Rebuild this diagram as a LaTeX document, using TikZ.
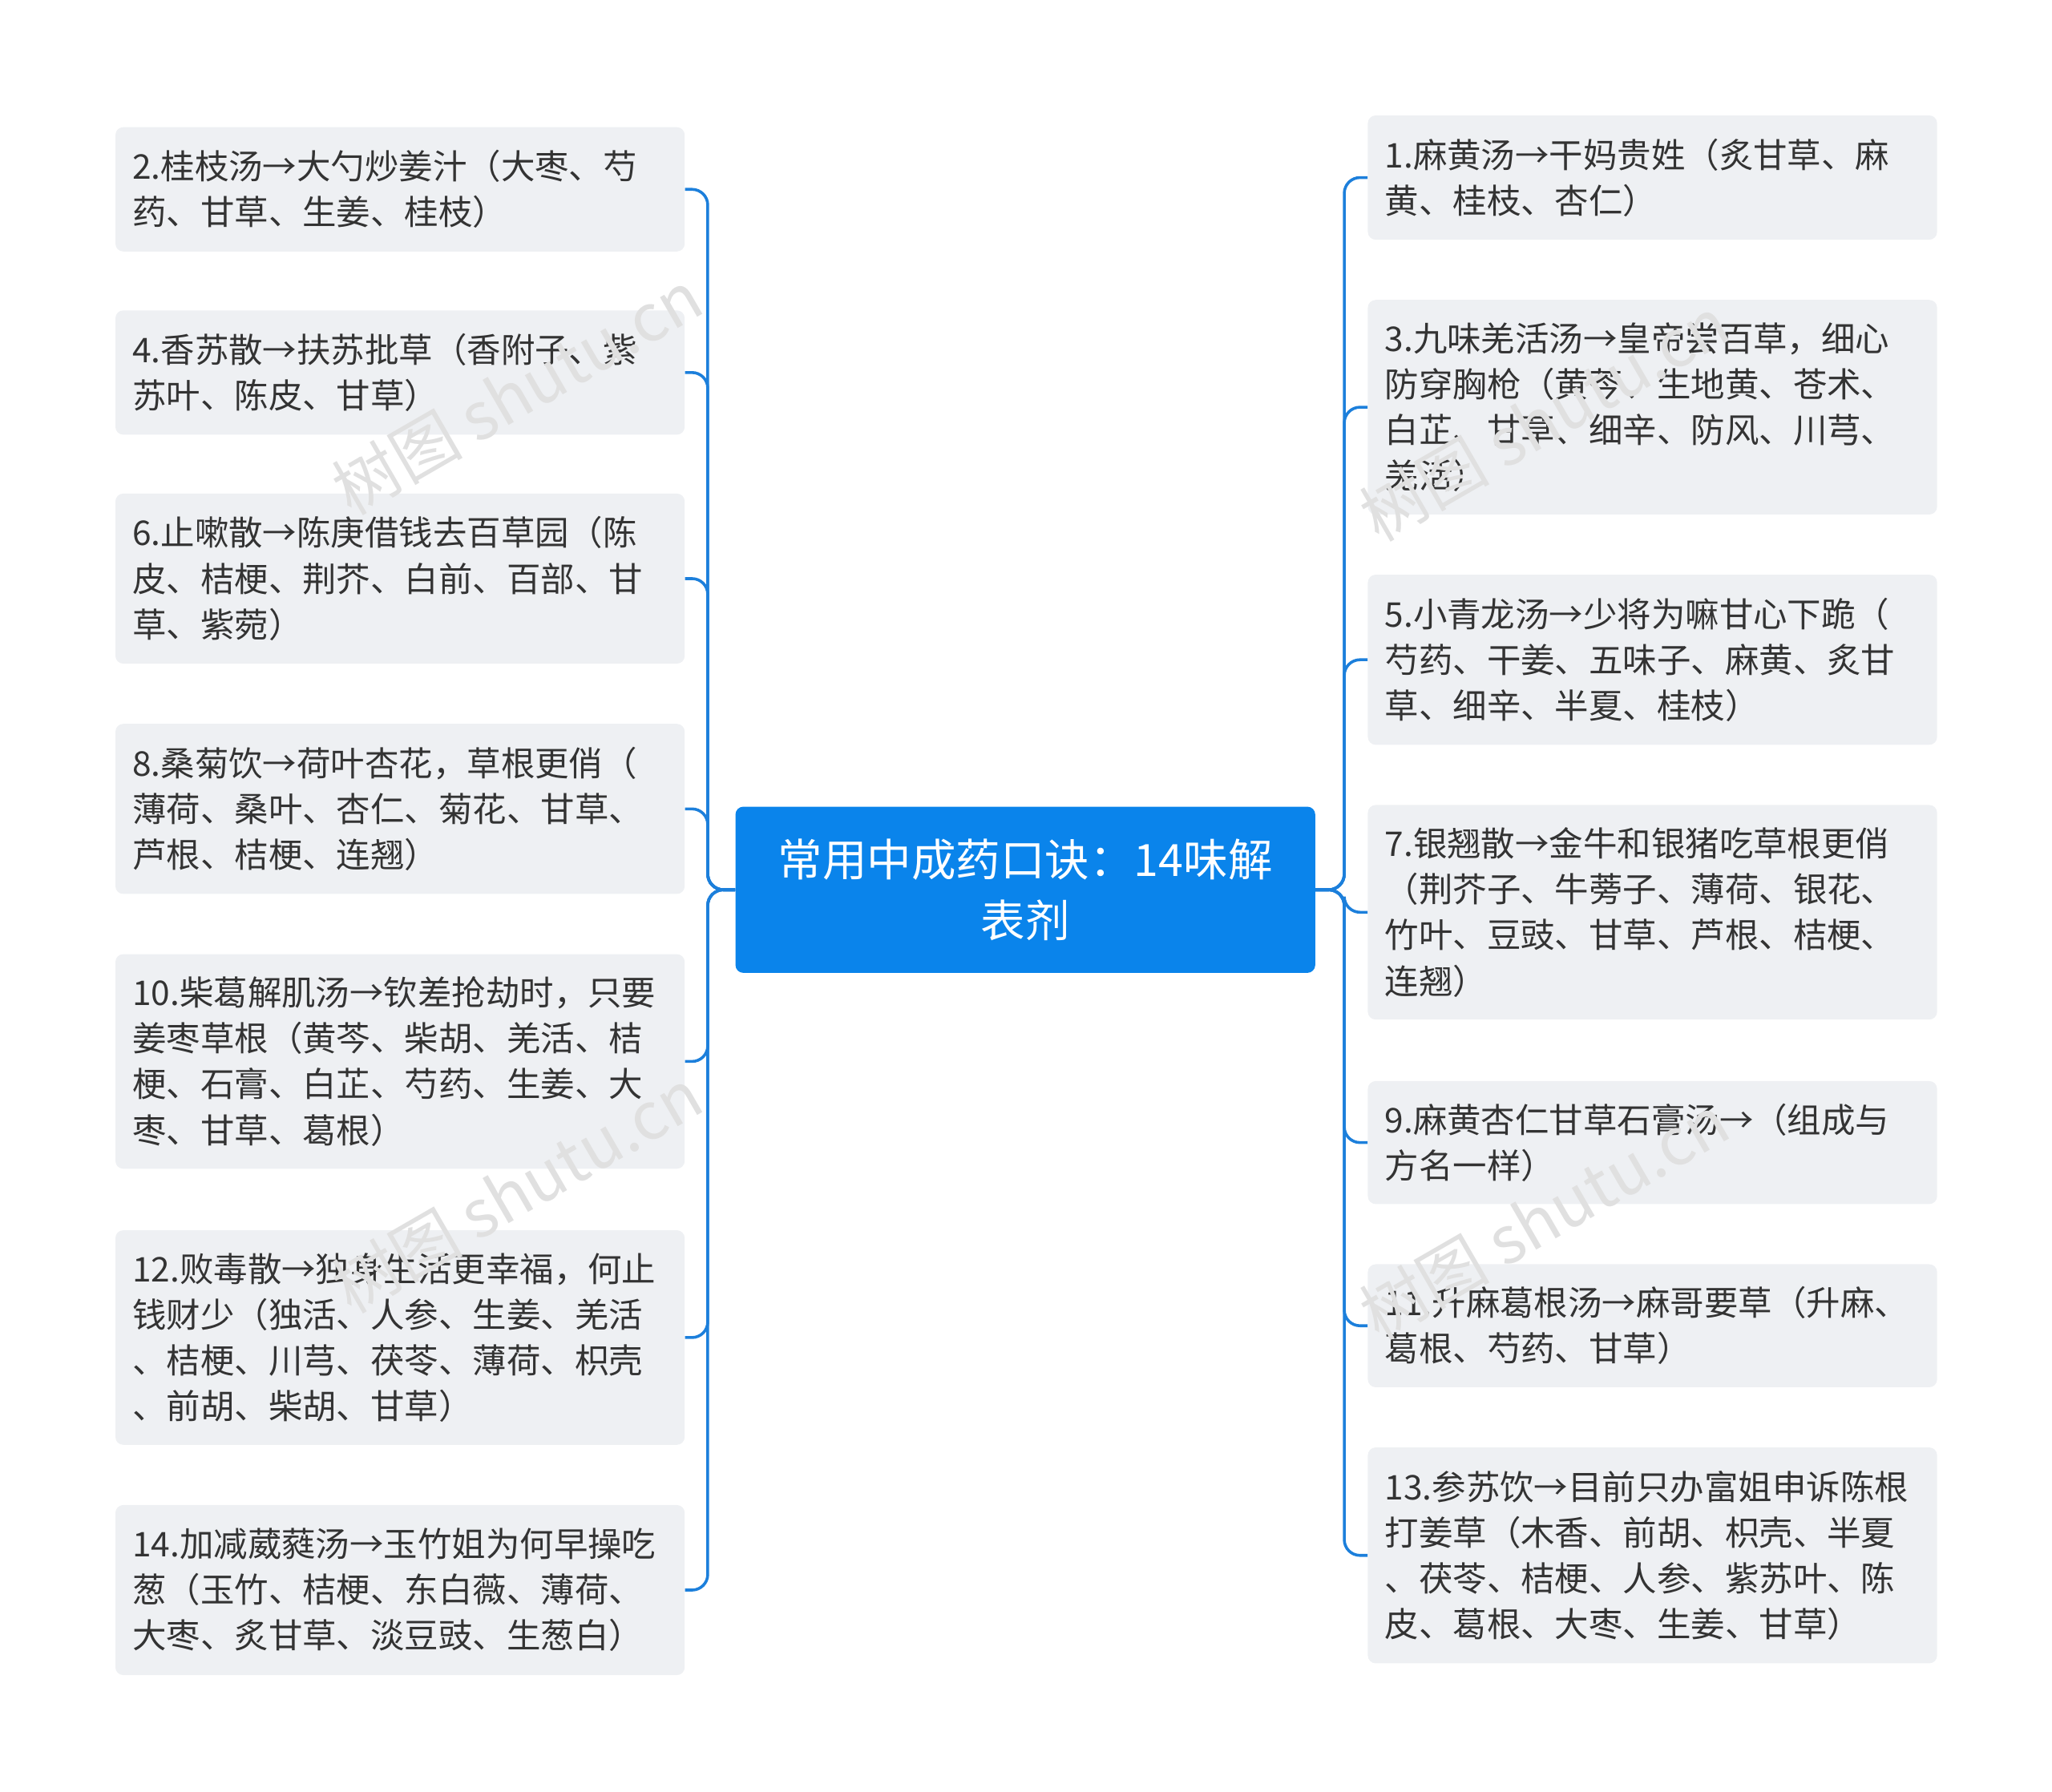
\documentclass[tikz,border=0pt]{standalone}
\usepackage{fontspec}
\newfontfamily\cjk{Noto Sans CJK SC}
\definecolor{ln}{HTML}{1C7FDB}
\definecolor{bx}{HTML}{EEF0F3}
\definecolor{tx}{HTML}{333333}
\definecolor{cb}{HTML}{0A84EB}
\begin{document}
\begin{tikzpicture}[x=1pt,y=-1pt,
 leaf/.style={fill=bx,rounded corners=6,text width=409pt,inner xsep=13pt,inner ysep=0pt,align=left,font=\cjk\fontsize{26}{35}\selectfont,text=tx,anchor=north west},
 con/.style={draw=ln,line width=2.2pt,rounded corners=12}]
\useasboundingbox (0,0) rectangle (1568,1369);
\node[fill=cb,rounded corners=6,minimum width=443pt,minimum height=127pt,text=white,align=center,font=\cjk\fontsize{34}{47}\selectfont] (c) at (783.5,680) {常用中成药口诀：14味解\\表剂};
\def\L#1#2#3#4{\node[leaf,minimum height=#3pt] (#1) at (88,#2) {#4};\draw[con] (c.west) -- ++(-21,0) |- (#1.east);}
\def\R#1#2#3#4{\node[leaf,minimum height=#3pt] (#1) at (1045,#2) {#4};\draw[con] (c.east) -- ++(22,0) |- (#1.west);}
\L{l2}{97}{95}{2.桂枝汤→大勺炒姜汁（大枣、芍\\药、甘草、生姜、桂枝）}
\L{l4}{237}{95}{4.香苏散→扶苏批草（香附子、紫\\苏叶、陈皮、甘草）}
\L{l6}{377}{130}{6.止嗽散→陈庚借钱去百草园（陈\\皮、桔梗、荆芥、白前、百部、甘\\草、紫菀）}
\L{l8}{553}{130}{8.桑菊饮→荷叶杏花，草根更俏（\\薄荷、桑叶、杏仁、菊花、甘草、\\芦根、桔梗、连翘）}
\L{l10}{729}{164}{10.柴葛解肌汤→钦差抢劫时，只要\\姜枣草根（黄芩、柴胡、羌活、桔\\梗、石膏、白芷、芍药、生姜、大\\枣、甘草、葛根）}
\L{l12}{940}{164}{12.败毒散→独身生活更幸福，何止\\钱财少（独活、人参、生姜、羌活\\、桔梗、川芎、茯苓、薄荷、枳壳\\、前胡、柴胡、甘草）}
\L{l14}{1150}{130}{14.加减葳蕤汤→玉竹姐为何早操吃\\葱（玉竹、桔梗、东白薇、薄荷、\\大枣、炙甘草、淡豆豉、生葱白）}
\R{r1}{88}{95}{1.麻黄汤→干妈贵姓（炙甘草、麻\\黄、桂枝、杏仁）}
\R{r3}{229}{164}{3.九味羌活汤→皇帝尝百草，细心\\防穿胸枪（黄芩、生地黄、苍术、\\白芷、甘草、细辛、防风、川芎、\\羌活）}
\R{r5}{439}{130}{5.小青龙汤→少将为嘛甘心下跪（\\芍药、干姜、五味子、麻黄、炙甘\\草、细辛、半夏、桂枝）}
\R{r7}{615}{164}{7.银翘散→金牛和银猪吃草根更俏\\（荆芥子、牛蒡子、薄荷、银花、\\竹叶、豆豉、甘草、芦根、桔梗、\\连翘）}
\R{r9}{826}{94}{9.麻黄杏仁甘草石膏汤→（组成与\\方名一样）}
\R{r11}{966}{94}{11.升麻葛根汤→麻哥要草（升麻、\\葛根、芍药、甘草）}
\R{r13}{1106}{165}{13.参苏饮→目前只办富姐申诉陈根\\打姜草（木香、前胡、枳壳、半夏\\、茯苓、桔梗、人参、紫苏叶、陈\\皮、葛根、大枣、生姜、甘草）}
\foreach \p in {(395,300),(395,910),(1180,320),(1180,930)}
 \node[rotate=30,text=black!12,font=\cjk\fontsize{50}{50}\selectfont] at \p {树图 shutu.cn};
\end{tikzpicture}
\end{document}
